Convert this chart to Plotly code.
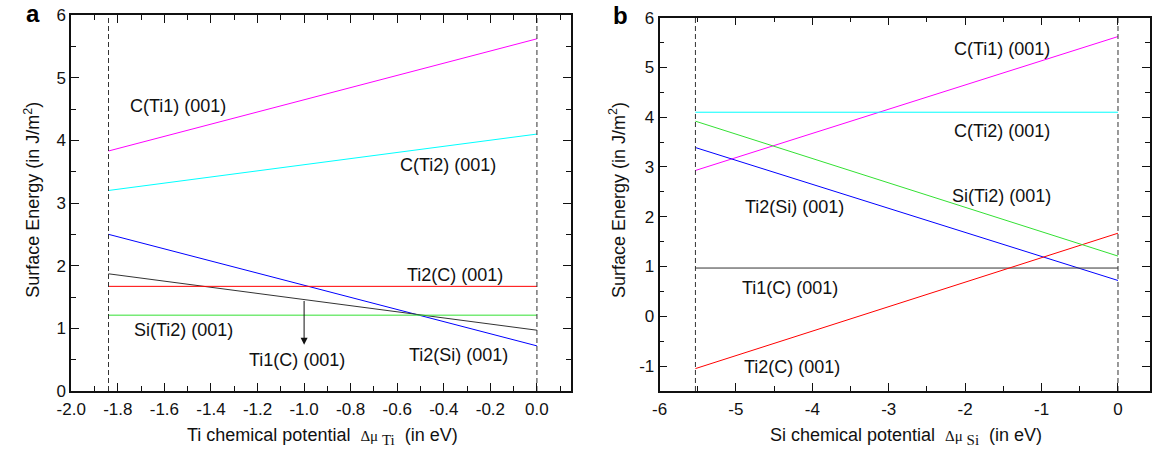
import plotly.graph_objects as go

# Chemical-potential windows (eV)
mu_ti = [-1.84, 0.0]
mu_si = [-5.53, 0.0]

# Surface energies (J/m^2) at the two ends of each window
names = ["C(Ti1) (001)", "C(Ti2) (001)", "Ti2(Si) (001)", "Ti1(C) (001)", "Ti2(C) (001)", "Si(Ti2) (001)"]
colors = ["#ff00ff", "#00ffff", "#0000ff", "#333333", "#ff0000", "#33e033"]
energy_vs_ti = [[3.83, 5.62], [3.20, 4.10], [2.50, 0.72], [1.87, 0.97], [1.67, 1.67], [1.21, 1.21]]
energy_vs_si = [[2.93, 5.62], [4.10, 4.10], [3.39, 0.72], [0.97, 0.97], [-1.05, 1.67], [3.92, 1.21]]

# Label positions (x, y) for each surface, same order as names
labels_a = [(-1.54, 4.54), (-0.38, 3.6), (-0.335, 0.57), (-1.03, 0.49), (-0.35, 1.85), (-1.52, 0.97)]
labels_b = [(-1.52, 5.37), (-1.52, 3.73), (-4.23, 2.19), (-4.29, 0.56), (-4.26, -1.02), (-1.52, 2.42)]

# Tick values and labels
xticks_a = [-2.0, -1.8, -1.6, -1.4, -1.2, -1.0, -0.8, -0.6, -0.4, -0.2, 0.0]
xtext_a = ["-2.0", "-1.8", "-1.6", "-1.4", "-1.2", "-1.0", "-0.8", "-0.6", "-0.4", "-0.2", "0.0"]
yticks_a = [0, 1, 2, 3, 4, 5, 6]
ytext_a = ["0", "1", "2", "3", "4", "5", "6"]
xticks_b = [-6, -5, -4, -3, -2, -1, 0]
xtext_b = ["-6", "-5", "-4", "-3", "-2", "-1", "0"]
yticks_b = [-1, 0, 1, 2, 3, 4, 5, 6]
ytext_b = ["-1", "0", "1", "2", "3", "4", "5", "6"]

FONT = "Liberation Sans, Arial, sans-serif"
INK = "#111111"
fig = go.Figure()

for e, c in zip(energy_vs_ti, colors):
    fig.add_trace(go.Scatter(x=mu_ti, y=e, mode="lines", line=dict(color=c, width=1),
                             xaxis="x", yaxis="y", showlegend=False))
for e, c in zip(energy_vs_si, colors):
    fig.add_trace(go.Scatter(x=mu_si, y=e, mode="lines", line=dict(color=c, width=1),
                             xaxis="x2", yaxis="y2", showlegend=False))

# Dashed boundaries of the allowed range
for xv in mu_ti:
    fig.add_trace(go.Scatter(x=[xv, xv], y=[0, 6], mode="lines",
                             line=dict(color="#333333", width=1, dash="5px,3px"),
                             xaxis="x", yaxis="y", showlegend=False))
for xv in mu_si:
    fig.add_trace(go.Scatter(x=[xv, xv], y=[-1.5, 6], mode="lines",
                             line=dict(color="#333333", width=1, dash="5px,3px"),
                             xaxis="x2", yaxis="y2", showlegend=False))

ann = []
for n, (x, y) in zip(names, labels_a):
    ann.append(dict(x=x, y=y, xref="x", yref="y", text=n, showarrow=False,
                    font=dict(size=18, color=INK, family=FONT)))
for n, (x, y) in zip(names, labels_b):
    ann.append(dict(x=x, y=y, xref="x2", yref="y2", text=n, showarrow=False,
                    font=dict(size=18, color=INK, family=FONT)))

# Arrow pointing from the Ti1(C) line to its label
ann.append(dict(x=-1.0, y=0.74, ax=-1.0, ay=1.46, xref="x", yref="y", axref="x", ayref="y",
                text="", showarrow=True, arrowhead=2, arrowsize=1.4, arrowwidth=1, arrowcolor=INK))

# Axis titles and panel letters
ytitle = "Surface Energy (in J/m<sup>2</sup>)"
title_font = dict(size=18, color=INK, family=FONT)
SYM = '<span style="font-family:Liberation Serif, serif; font-size:15px">'


def xtitle(el):
    return (f"{el} chemical potential  {SYM}Δμ</span>"
            f"<sub>{SYM} {el}</span></sub>  (in eV)")


ann += [
    dict(x=18/1156, y=0.508, xref="paper", yref="paper", text=ytitle, textangle=-90,
         showarrow=False, xanchor="center", yanchor="middle", font=title_font),
    dict(x=611/1156, y=0.508, xref="paper", yref="paper", text=ytitle, textangle=-90,
         showarrow=False, xanchor="center", yanchor="middle", font=title_font),
    dict(x=312/1156, y=-0.122, xref="paper", yref="paper", text=xtitle("Ti"), showarrow=False,
         xanchor="center", yanchor="middle", font=title_font),
    dict(x=903/1156, y=-0.122, xref="paper", yref="paper", text=xtitle("Si"), showarrow=False,
         xanchor="center", yanchor="middle", font=title_font),
    dict(x=18/1156, y=1.003, xref="paper", yref="paper", text="<b>a</b>", showarrow=False,
         xanchor="center", yanchor="middle", font=dict(size=24, color="#000000", family=FONT)),
    dict(x=613/1156, y=0.998, xref="paper", yref="paper", text="<b>b</b>", showarrow=False,
         xanchor="center", yanchor="middle", font=dict(size=24, color="#000000", family=FONT)),
]

axis_common = dict(showline=True, linecolor=INK, linewidth=1.6, mirror="allticks",
                   ticks="inside", ticklen=8, tickwidth=1.4, tickcolor=INK,
                   showgrid=False, zeroline=False, tickmode="array",
                   tickfont=dict(size=17, color=INK, family=FONT))
minor_common = dict(ticks="inside", ticklen=5, tickwidth=1.2, tickcolor=INK)

fig.update_layout(
    width=1156, height=453,
    margin=dict(l=0, r=0, t=15, b=62),
    paper_bgcolor="white", plot_bgcolor="white",
    xaxis=dict(domain=[57/1156, 563/1156], range=[-2.0, 0.145], ticklabelstandoff=2,
               tickvals=xticks_a, ticktext=xtext_a, minor=dict(dtick=0.1, **minor_common),
               anchor="y", **axis_common),
    yaxis=dict(domain=[0, 1], range=[0, 6], tickvals=yticks_a, ticktext=ytext_a,
               minor=dict(dtick=0.5, **minor_common), anchor="x", **axis_common),
    xaxis2=dict(domain=[653/1156, 1150/1156], range=[-6, 0.42], ticklabelstandoff=2,
                tickvals=xticks_b, ticktext=xtext_b, minor=dict(dtick=0.5, **minor_common),
                anchor="y2", **axis_common),
    yaxis2=dict(domain=[0, 0.993], range=[-1.5, 6], tickvals=yticks_b, ticktext=ytext_b,
                minor=dict(dtick=0.5, **minor_common), anchor="x2", **axis_common),
    annotations=ann,
)

fig.write_html("out.html")
